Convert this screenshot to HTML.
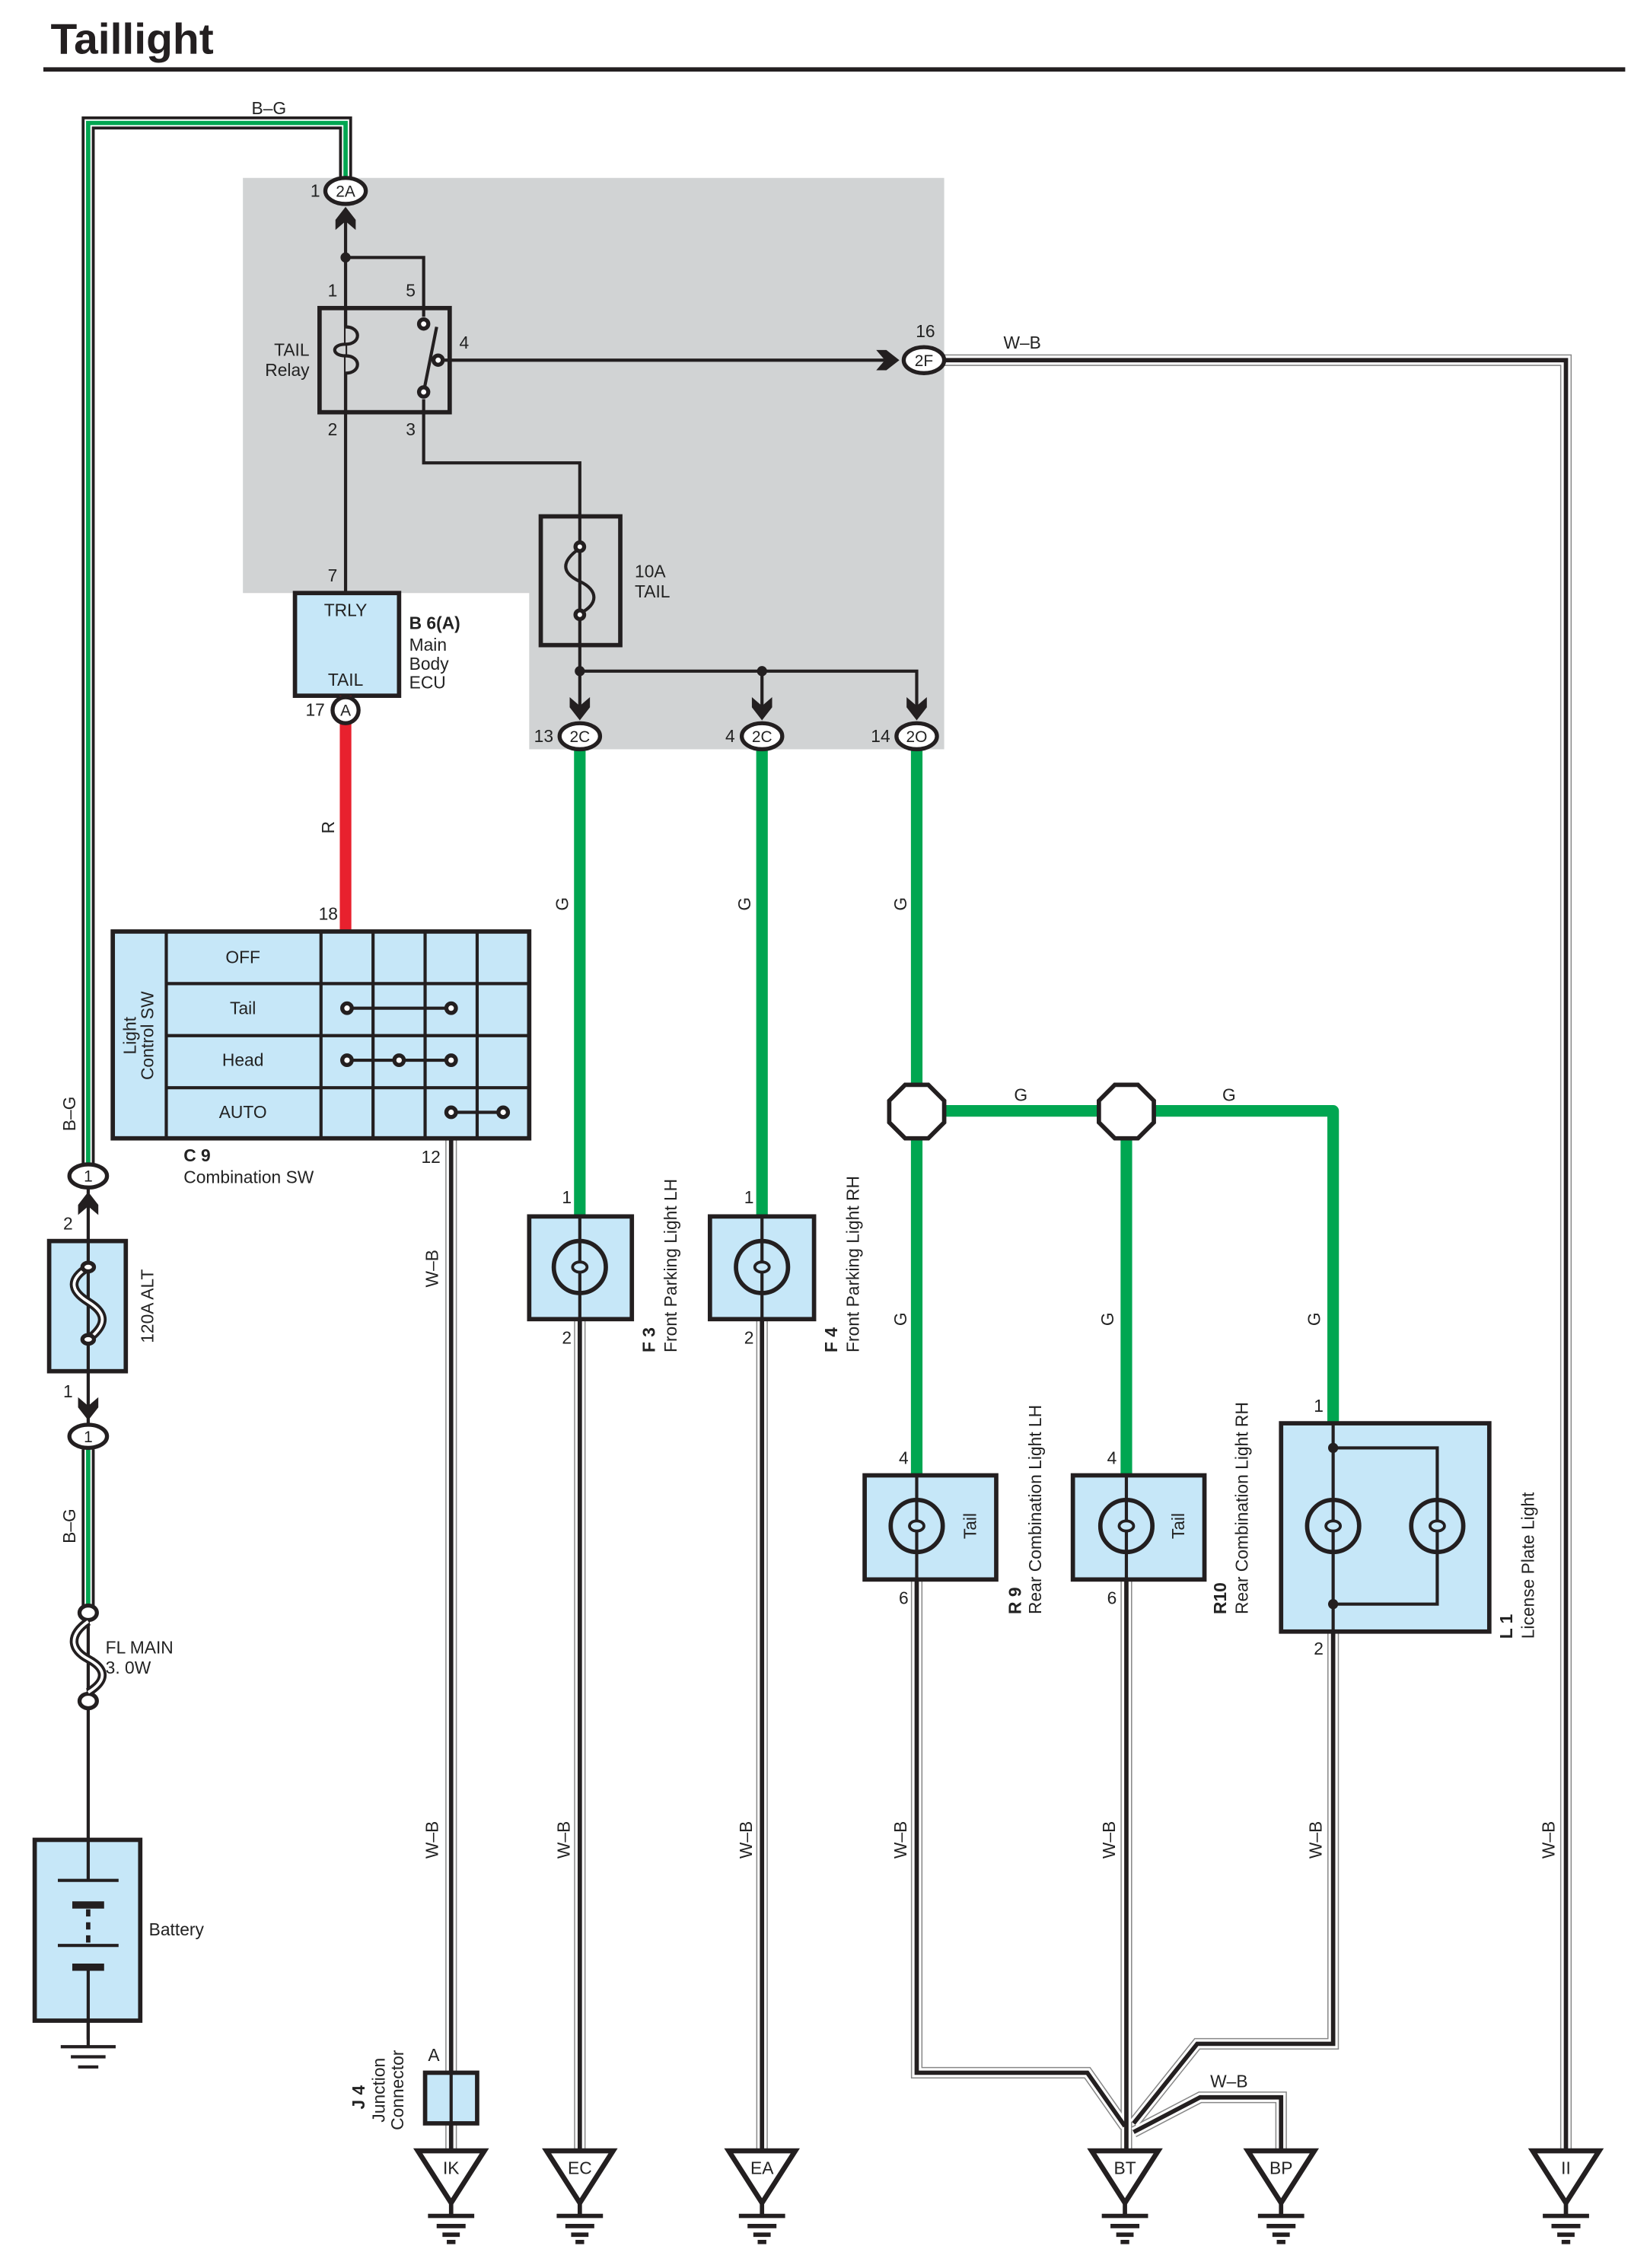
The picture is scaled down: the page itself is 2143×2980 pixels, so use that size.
<!DOCTYPE html>
<html><head><meta charset="utf-8"><style>
html,body{margin:0;padding:0;background:#fff}
svg{display:block}
text{font-family:"Liberation Sans",sans-serif;font-size:12px;fill:#222}
.k{fill:none;stroke:#231f20;stroke-width:2.2}
.b{fill:#c6e7f8;stroke:#231f20;stroke-width:3}
.wo{fill:none;stroke:#888;stroke-width:8}
.wi{fill:none;stroke:#fff;stroke-width:6.4}
.wc{fill:none;stroke:#231f20;stroke-width:3}
.g{fill:none;stroke:#00a651;stroke-width:8}
.bgo{fill:none;stroke:#231f20;stroke-width:9}
.bgw{fill:none;stroke:#fff;stroke-width:5}
.bgg{fill:none;stroke:#00a651;stroke-width:3}
.c{fill:#fff;stroke:#231f20;stroke-width:2.8}
</style></head><body>
<svg width="2143" height="2980" viewBox="0 0 1128 1568" preserveAspectRatio="none" xmlns="http://www.w3.org/2000/svg">
<defs>
<path id="wb1" d="M312,787 V1487"/>
<path id="wb2" d="M401,912 V1487"/>
<path id="wb3" d="M527,912 V1487"/>
<path id="wb4" d="M634,1092 V1433 H752 L778,1470"/>
<path id="wb5" d="M779,1092 V1487"/>
<path id="wb6" d="M922,1128 V1413 H828 L784,1468"/>
<path id="wb7" d="M784,1474 L830,1450 H886 V1487"/>
<path id="wb8" d="M653,249 H1083 V1487"/>
<path id="bg1" d="M61,813 V85 H239 V124"/>
<path id="bg2" d="M61,1002 V1112"/>
<g id="gnd"><path d="M-23,0 H23 L0,36 Z" fill="#fff" stroke="#231f20" stroke-width="3.5" stroke-linejoin="miter"/><path d="M0,36 V45 M-16,45 H16 M-10,52 H10 M-6,58 H6 M-3,63 H3" stroke="#231f20" stroke-width="3" fill="none"/></g>
<g id="bulb"><circle r="18" fill="none" stroke="#231f20" stroke-width="3"/><ellipse cx="0" cy="0" rx="5" ry="3.5" fill="none" stroke="#231f20" stroke-width="2"/></g>
<path id="chevU" d="M-7,9 L-7,2 L0,-7 L7,2 L7,9 L0,3 Z" fill="#231f20"/>
<path id="chevD" d="M-7,-9 L-7,-2 L0,7 L7,-2 L7,-9 L0,-3 Z" fill="#231f20"/>
</defs>

<text x="35" y="37" style="font-size:30px;font-weight:bold;fill:#231f20">Taillight</text>
<path d="M30,48 H1124" stroke="#231f20" stroke-width="3"/>

<path d="M168,123 H653 V518 H366 V410 H168 Z" fill="#d1d3d4"/>

<use href="#bg1" class="bgo"/><use href="#bg1" class="bgw"/><use href="#bg1" class="bgg"/>
<use href="#bg2" class="bgo"/><use href="#bg2" class="bgw"/><use href="#bg2" class="bgg"/>
<text x="186" y="79" text-anchor="middle">B–G</text>
<text transform="translate(52,770) rotate(-90)" text-anchor="middle">B–G</text>
<text transform="translate(52,1055) rotate(-90)" text-anchor="middle">B–G</text>

<g>
<use href="#wb1" class="wo"/><use href="#wb2" class="wo"/><use href="#wb3" class="wo"/><use href="#wb4" class="wo"/><use href="#wb5" class="wo"/><use href="#wb6" class="wo"/><use href="#wb7" class="wo"/><use href="#wb8" class="wo"/>
<use href="#wb1" class="wi"/><use href="#wb2" class="wi"/><use href="#wb3" class="wi"/><use href="#wb4" class="wi"/><use href="#wb5" class="wi"/><use href="#wb6" class="wi"/><use href="#wb7" class="wi"/><use href="#wb8" class="wi"/>
<use href="#wb1" class="wc"/><use href="#wb2" class="wc"/><use href="#wb3" class="wc"/><use href="#wb4" class="wc"/><use href="#wb5" class="wc"/><use href="#wb6" class="wc"/><use href="#wb7" class="wc"/><use href="#wb8" class="wc"/>
</g>
<text x="707" y="241" text-anchor="middle">W–B</text>
<text x="850" y="1443" text-anchor="middle">W–B</text>
<text transform="translate(303,877) rotate(-90)" text-anchor="middle">W–B</text>
<g text-anchor="middle">
<text transform="translate(303,1272) rotate(-90)">W–B</text>
<text transform="translate(394,1272) rotate(-90)">W–B</text>
<text transform="translate(520,1272) rotate(-90)">W–B</text>
<text transform="translate(627,1272) rotate(-90)">W–B</text>
<text transform="translate(771,1272) rotate(-90)">W–B</text>
<text transform="translate(914,1272) rotate(-90)">W–B</text>
<text transform="translate(1075,1272) rotate(-90)">W–B</text>
</g>

<path class="k" d="M239,150 V410 M239,178 H293 V219 M293,276 V320 H401 V464 M401,464 H634 V492 M527,464 V492 M401,464 V492 M305,249 H612"/>
<circle cx="239" cy="178" r="3.5" fill="#231f20"/>
<circle cx="401" cy="464" r="3.5" fill="#231f20"/>
<circle cx="527" cy="464" r="3.5" fill="#231f20"/>
<rect x="221" y="213" width="90" height="72" fill="none" stroke="#231f20" stroke-width="3"/>
<path d="M239,226 C250,226 250,238 239,238 C229,238 229,246 239,246 C250,246 250,258 239,258" fill="#d1d3d4" stroke="#231f20" stroke-width="2.2"/>
<path d="M239,213 V226 M239,258 V285" class="k"/>
<path d="M293,271 L302,226" stroke="#231f20" stroke-width="2.2"/>
<circle cx="293" cy="224" r="3.2" class="c" stroke-width="2"/>
<circle cx="293" cy="271" r="3.2" class="c" stroke-width="2"/>
<circle cx="303" cy="249" r="3.2" class="c" stroke-width="2"/>
<text x="230" y="205" text-anchor="middle">1</text><text x="284" y="205" text-anchor="middle">5</text>
<text x="230" y="301" text-anchor="middle">2</text><text x="284" y="301" text-anchor="middle">3</text>
<text x="321" y="241" text-anchor="middle">4</text>
<text x="214" y="246" text-anchor="end">TAIL</text><text x="214" y="260" text-anchor="end">Relay</text>
<rect x="374" y="357" width="55" height="89" fill="none" stroke="#231f20" stroke-width="3"/>
<path d="M401,379 C388,388 388,396 401,402 C414,408 414,418 401,424" fill="none" stroke="#231f20" stroke-width="2.2"/>
<circle cx="401" cy="378" r="3" class="c" stroke-width="2"/><circle cx="401" cy="425" r="3" class="c" stroke-width="2"/>
<text x="439" y="399">10A</text><text x="439" y="413">TAIL</text>
<use href="#chevU" x="239" y="150"/>
<ellipse cx="239" cy="132" rx="14" ry="9" class="c"/>
<text x="239" y="136" text-anchor="middle" style="font-size:11px">2A</text>
<text x="218" y="136" text-anchor="middle">1</text>
<path d="M606,242 L613,242 L622,249 L613,256 L606,256 L612,249 Z" fill="#231f20"/>
<ellipse cx="639" cy="249" rx="14" ry="9" class="c"/>
<text x="639" y="253" text-anchor="middle" style="font-size:11px">2F</text>
<text x="640" y="233" text-anchor="middle">16</text>

<path class="g" d="M401,516 V841 M527,516 V841 M634,516 V1020 M634,768 H922 V984 M779,768 V1020" stroke-linejoin="round"/>
<g>
<use href="#chevD" x="401" y="491"/><use href="#chevD" x="527" y="491"/><use href="#chevD" x="634" y="491"/>
<ellipse cx="401" cy="509" rx="14" ry="9" class="c"/><text x="401" y="513" text-anchor="middle" style="font-size:11px">2C</text>
<ellipse cx="527" cy="509" rx="14" ry="9" class="c"/><text x="527" y="513" text-anchor="middle" style="font-size:11px">2C</text>
<ellipse cx="634" cy="509" rx="14" ry="9" class="c"/><text x="634" y="513" text-anchor="middle" style="font-size:11px">2O</text>
<text x="376" y="513" text-anchor="middle">13</text><text x="505" y="513" text-anchor="middle">4</text><text x="609" y="513" text-anchor="middle">14</text>
</g>
<path d="M626,750 H642 L653,761 V776 L642,787 H626 L615,776 V761 Z" fill="#fff" stroke="#231f20" stroke-width="3"/>
<path d="M771,750 H787 L798,761 V776 L787,787 H771 L760,776 V761 Z" fill="#fff" stroke="#231f20" stroke-width="3"/>
<text x="706" y="761" text-anchor="middle">G</text><text x="850" y="761" text-anchor="middle">G</text>
<g text-anchor="middle">
<text transform="translate(393,625) rotate(-90)">G</text>
<text transform="translate(519,625) rotate(-90)">G</text>
<text transform="translate(627,625) rotate(-90)">G</text>
<text transform="translate(627,912) rotate(-90)">G</text>
<text transform="translate(770,912) rotate(-90)">G</text>
<text transform="translate(913,912) rotate(-90)">G</text>
</g>

<rect x="204" y="410" width="72" height="71" class="b"/>
<text x="239" y="426" text-anchor="middle">TRLY</text><text x="239" y="474" text-anchor="middle">TAIL</text>
<text x="230" y="402" text-anchor="middle">7</text>
<text x="283" y="435" style="font-weight:bold">B 6(A)</text>
<text x="283" y="450">Main</text><text x="283" y="463">Body</text><text x="283" y="476">ECU</text>
<path d="M239,481 V643" stroke="#e8212e" stroke-width="8" />
<path d="M239,481 V500" class="k"/>
<circle cx="239" cy="491" r="9" class="c"/><text x="239" y="495" text-anchor="middle" style="font-size:11px">A</text>
<text x="218" y="495" text-anchor="middle">17</text>
<text transform="translate(231,572) rotate(-90)" text-anchor="middle">R</text>

<rect x="78" y="644" width="288" height="143" class="b"/>
<path class="k" stroke-width="2.4" d="M115,644 V787 M222,644 V787 M258,644 V787 M294,644 V787 M330,644 V787 M115,680 H366 M115,716 H366 M115,752 H366"/>
<g text-anchor="middle" style="font-size:12.5px">
<text x="168" y="666">OFF</text><text x="168" y="701">Tail</text><text x="168" y="737">Head</text><text x="168" y="773">AUTO</text>
</g>
<text transform="translate(94,716) rotate(-90)" text-anchor="middle">Light</text>
<text transform="translate(106,716) rotate(-90)" text-anchor="middle">Control SW</text>
<path class="k" d="M240,697 H312 M240,733 H312 M312,769 H348"/>
<g class="c" stroke-width="2"><circle cx="240" cy="697" r="3.3"/><circle cx="312" cy="697" r="3.3"/><circle cx="240" cy="733" r="3.3"/><circle cx="276" cy="733" r="3.3"/><circle cx="312" cy="733" r="3.3"/><circle cx="312" cy="769" r="3.3"/><circle cx="348" cy="769" r="3.3"/></g>
<text x="227" y="636" text-anchor="middle">18</text>
<text x="298" y="804" text-anchor="middle">12</text>
<text x="127" y="803" style="font-weight:bold">C 9</text><text x="127" y="818">Combination SW</text>

<rect x="294" y="1433" width="36" height="35" class="b" stroke-width="2.6"/>
<path d="M312,1433 V1468" class="k"/>
<text x="300" y="1425" text-anchor="middle">A</text>
<text transform="translate(252,1450) rotate(-90)" text-anchor="middle" style="font-weight:bold">J 4</text>
<text transform="translate(266,1445) rotate(-90)" text-anchor="middle">Junction</text>
<text transform="translate(279,1445) rotate(-90)" text-anchor="middle">Connector</text>

<rect x="366" y="841" width="71" height="71" class="b"/>
<path class="k" d="M401,841 V873 M401,880 V912"/><use href="#bulb" x="401" y="876"/>
<rect x="491" y="841" width="72" height="71" class="b"/>
<path class="k" d="M527,841 V873 M527,880 V912"/><use href="#bulb" x="527" y="876"/>
<text x="392" y="832" text-anchor="middle">1</text><text x="392" y="929" text-anchor="middle">2</text>
<text x="518" y="832" text-anchor="middle">1</text><text x="518" y="929" text-anchor="middle">2</text>
<text transform="translate(453,935) rotate(-90)" style="font-weight:bold">F 3</text>
<text transform="translate(468,935) rotate(-90)">Front Parking Light LH</text>
<text transform="translate(579,935) rotate(-90)" style="font-weight:bold">F 4</text>
<text transform="translate(594,935) rotate(-90)">Front Parking Light RH</text>

<rect x="598" y="1020" width="91" height="72" class="b"/>
<path class="k" d="M634,1020 V1052 M634,1059 V1092"/><use href="#bulb" x="634" y="1055"/>
<text transform="translate(675,1055) rotate(-90)" text-anchor="middle">Tail</text>
<rect x="742" y="1020" width="91" height="72" class="b"/>
<path class="k" d="M779,1020 V1052 M779,1059 V1092"/><use href="#bulb" x="779" y="1055"/>
<text transform="translate(819,1055) rotate(-90)" text-anchor="middle">Tail</text>
<text x="625" y="1012" text-anchor="middle">4</text><text x="625" y="1109" text-anchor="middle">6</text>
<text x="769" y="1012" text-anchor="middle">4</text><text x="769" y="1109" text-anchor="middle">6</text>
<text transform="translate(706,1116) rotate(-90)" style="font-weight:bold">R 9</text>
<text transform="translate(720,1116) rotate(-90)">Rear Combination Light LH</text>
<text transform="translate(848,1116) rotate(-90)" style="font-weight:bold">R10</text>
<text transform="translate(863,1116) rotate(-90)">Rear Combination Light RH</text>

<rect x="886" y="984" width="144" height="144" class="b"/>
<path class="k" d="M922,984 V1052 M922,1059 V1128 M922,1001 H994 V1052 M994,1059 V1109 H922"/>
<use href="#bulb" x="922" y="1055"/><use href="#bulb" x="994" y="1055"/>
<circle cx="922" cy="1001" r="3.5" fill="#231f20"/><circle cx="922" cy="1109" r="3.5" fill="#231f20"/>
<text x="912" y="976" text-anchor="middle">1</text><text x="912" y="1144" text-anchor="middle">2</text>
<text transform="translate(1046,1133) rotate(-90)" style="font-weight:bold">L 1</text>
<text transform="translate(1061,1133) rotate(-90)">License Plate Light</text>

<use href="#gnd" x="312" y="1487"/><use href="#gnd" x="401" y="1487"/><use href="#gnd" x="527" y="1487"/>
<use href="#gnd" x="778" y="1487"/><use href="#gnd" x="886" y="1487"/><use href="#gnd" x="1083" y="1487"/>
<g text-anchor="middle" style="font-size:12.5px">
<text x="312" y="1503">IK</text><text x="401" y="1503">EC</text><text x="527" y="1503">EA</text>
<text x="778" y="1503">BT</text><text x="886" y="1503">BP</text><text x="1083" y="1503">II</text>
</g>

<path class="k" d="M61,822 V992 M61,1120 V1410"/>
<ellipse cx="61" cy="813" rx="13" ry="8" class="c"/><text x="61" y="817" text-anchor="middle" style="font-size:11px">1</text>
<use href="#chevU" x="61" y="831"/>
<text x="47" y="850" text-anchor="middle">2</text>
<rect x="34" y="858" width="53" height="90" class="b"/>
<path d="M61,858 V948" class="k"/>
<path d="M61,876 C48,884 48,892 61,900 C74,908 74,916 61,926" fill="none" stroke="#231f20" stroke-width="6"/>
<path d="M61,876 C48,884 48,892 61,900 C74,908 74,916 61,926" fill="none" stroke="#fff" stroke-width="2"/>
<ellipse cx="61" cy="876" rx="4" ry="3" class="c" stroke-width="1.8"/><ellipse cx="61" cy="926" rx="4" ry="3" class="c" stroke-width="1.8"/>
<text transform="translate(106,903) rotate(-90)" text-anchor="middle">120A ALT</text>
<text x="47" y="966" text-anchor="middle">1</text>
<use href="#chevD" x="61" y="975"/>
<ellipse cx="61" cy="993" rx="13" ry="8" class="c"/><text x="61" y="997" text-anchor="middle" style="font-size:11px">1</text>
<ellipse cx="61" cy="1115" rx="6" ry="5" class="c" stroke-width="2.6"/>
<ellipse cx="61" cy="1176" rx="6" ry="5" class="c" stroke-width="2.6"/>
<path d="M61,1121 C48,1130 48,1140 61,1147 C74,1154 74,1162 61,1170" fill="none" stroke="#231f20" stroke-width="6"/>
<path d="M61,1121 C48,1130 48,1140 61,1147 C74,1154 74,1162 61,1170" fill="none" stroke="#fff" stroke-width="2"/>
<text x="73" y="1143">FL MAIN</text><text x="73" y="1157">3. 0W</text>
<rect x="24" y="1272" width="73" height="125" class="b"/>
<path class="k" d="M61,1272 V1300 M40,1300 H82 M40,1345 H82 M61,1360 V1397"/>
<path d="M50,1317 H72 M50,1360 H72" stroke="#231f20" stroke-width="5"/>
<path d="M61,1320 V1344" stroke="#231f20" stroke-width="3" stroke-dasharray="5,4"/>
<text x="103" y="1338">Battery</text>
<path d="M61,1397 V1415 M42,1415 H80 M49,1422 H73 M54,1429 H68" stroke="#231f20" stroke-width="2.2" fill="none"/>
</svg>
</body></html>
